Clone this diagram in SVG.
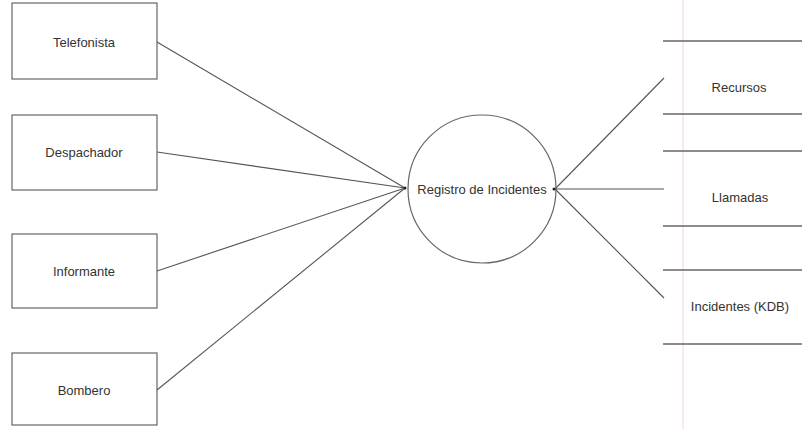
<svg xmlns="http://www.w3.org/2000/svg" width="802" height="429" viewBox="0 0 802 429">
<style>
.box{fill:#fff;stroke:#666;stroke-width:1.2}
.lbl{font-family:"Liberation Sans",Arial,sans-serif;font-size:13px;fill:#333;text-anchor:middle;dominant-baseline:central}
.con{stroke:#555;stroke-width:1.1;fill:none}
.store{stroke:#666;stroke-width:1.3}
</style>
<rect width="802" height="429" fill="#fff"/>
<line x1="683" y1="0" x2="683" y2="429" stroke="#f2d4d8" stroke-width="1"/>
<g id="connectors">
<line class="con" x1="157" y1="42" x2="405" y2="188"/>
<line class="con" x1="157" y1="152" x2="405" y2="188"/>
<line class="con" x1="157" y1="271" x2="405" y2="188"/>
<line class="con" x1="157" y1="390" x2="405" y2="188"/>
<line class="con" x1="555" y1="189" x2="664" y2="78"/>
<line class="con" x1="555" y1="189" x2="664" y2="189"/>
<line class="con" x1="555" y1="189" x2="664" y2="298"/>
<circle cx="405" cy="188" r="1.5" fill="#222"/>
<circle cx="554" cy="189" r="1.5" fill="#222"/>
</g>
<g id="telefonista"><rect class="box" x="12" y="3" width="145" height="76"/><text class="lbl" x="84" y="42">Telefonista</text></g>
<g id="despachador"><rect class="box" x="12" y="115" width="145" height="75"/><text class="lbl" x="84" y="152">Despachador</text></g>
<g id="informante"><rect class="box" x="12" y="234" width="145" height="74"/><text class="lbl" x="84" y="271">Informante</text></g>
<g id="bombero"><rect class="box" x="12" y="353" width="145" height="72"/><text class="lbl" x="84" y="390">Bombero</text></g>
<g id="registro"><circle cx="482" cy="189" r="74" fill="none" stroke="#666" stroke-width="1.2"/><text class="lbl" x="482" y="189">Registro de Incidentes</text></g>
<g id="recursos"><line class="store" x1="663" y1="41" x2="802" y2="41"/><line class="store" x1="663" y1="114" x2="802" y2="114"/><text class="lbl" x="739" y="87">Recursos</text></g>
<g id="llamadas"><line class="store" x1="663" y1="151" x2="802" y2="151"/><line class="store" x1="663" y1="226" x2="802" y2="226"/><text class="lbl" x="740" y="197">Llamadas</text></g>
<g id="incidentes"><line class="store" x1="663" y1="270" x2="802" y2="270"/><line class="store" x1="663" y1="344" x2="802" y2="344"/><text class="lbl" x="740" y="306">Incidentes (KDB)</text></g>
</svg>
